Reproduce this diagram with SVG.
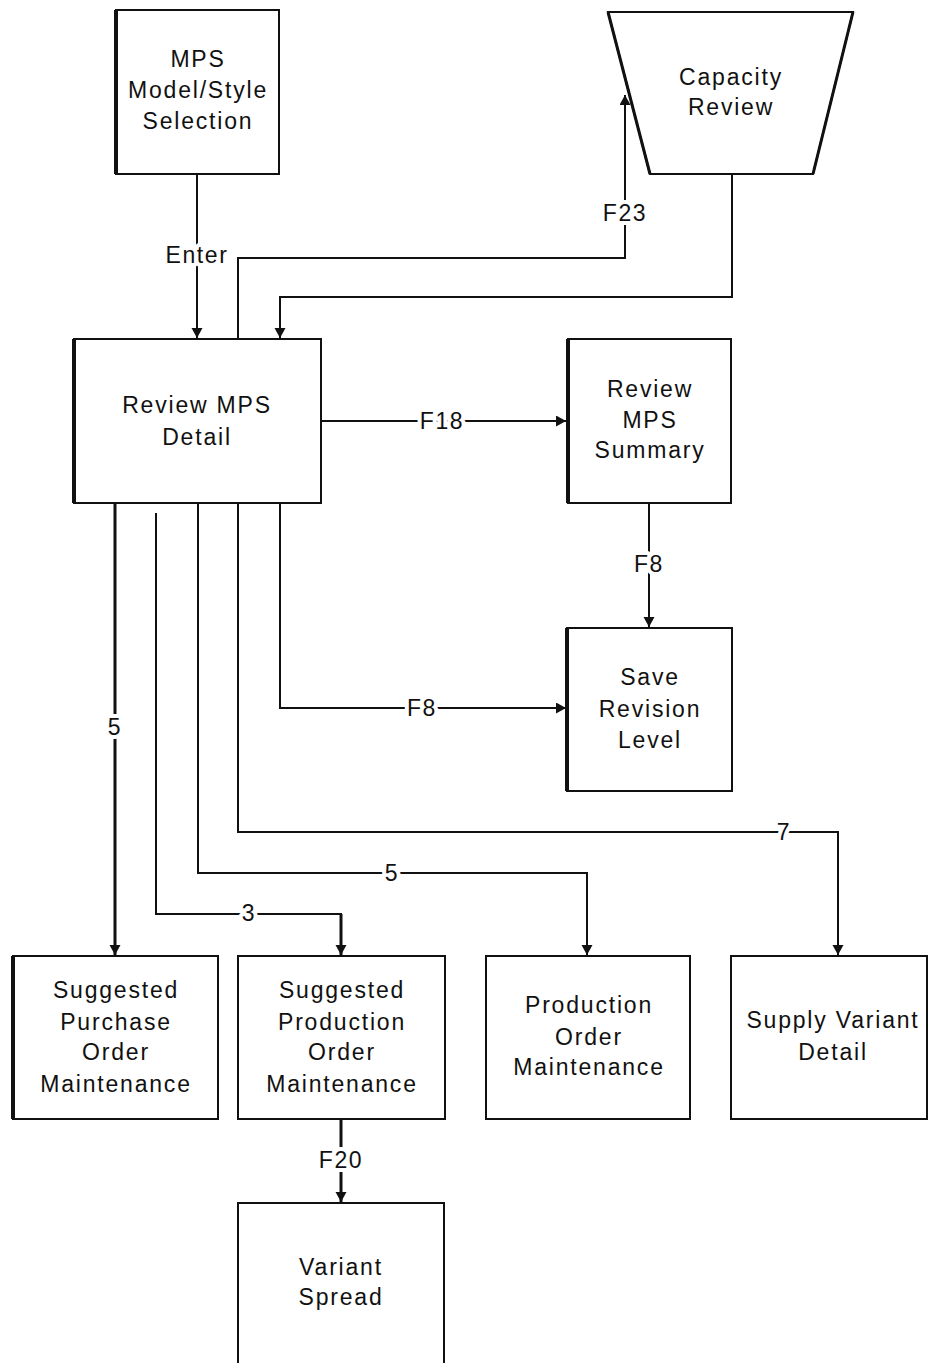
<svg xmlns="http://www.w3.org/2000/svg" width="928" height="1363" viewBox="0 0 928 1363">
<style>
.box{fill:#fff;stroke:#111;stroke-width:2}
.edge{stroke:#111;stroke-width:4}
.t{font-family:"Liberation Sans",Arial,sans-serif;font-size:23px;letter-spacing:1.8px;fill:#111;text-anchor:middle}
.c{fill:none;stroke:#111;stroke-width:2}
.thick{stroke-width:3}
.lbl{font-family:"Liberation Sans",Arial,sans-serif;font-size:23px;letter-spacing:1.6px;fill:#111;text-anchor:middle;stroke:#fff;stroke-width:8px;paint-order:stroke;stroke-linejoin:round}
</style>
<defs>
<marker id="ah" markerUnits="userSpaceOnUse" markerWidth="12" markerHeight="12" refX="10" refY="5.5" orient="auto">
<path d="M0,0 L10,5.5 L0,11 Z" fill="#111"/>
</marker>
</defs>
<rect width="928" height="1363" fill="#fff"/>

<g id="connectors">
<path class="c" d="M197,174 V338" marker-end="url(#ah)"/>
<path class="c" d="M238,339 V258 H625 V95" marker-end="url(#ah)"/>
<path class="c" d="M732,174 V297 H280 V338" marker-end="url(#ah)"/>
<path class="c" d="M321,421 H566" marker-end="url(#ah)"/>
<path class="c" d="M649,503 V627" marker-end="url(#ah)"/>
<path class="c" d="M280,503 V708 H566" marker-end="url(#ah)"/>
<path class="c thick" d="M115,503 V955" marker-end="url(#ah)"/>
<path class="c" d="M156,513 V914 H341 V925"/>
<path class="c thick" d="M341,914 V955" marker-end="url(#ah)"/>
<path class="c" d="M198,503 V873 H587 V955" marker-end="url(#ah)"/>
<path class="c" d="M238,503 V832 H838 V955" marker-end="url(#ah)"/>
<path class="c thick" d="M341,1119 V1202" marker-end="url(#ah)"/>
<text class="lbl" x="197" y="263">Enter</text>
<text class="lbl" x="625" y="221">F23</text>
<text class="lbl" x="442" y="429">F18</text>
<text class="lbl" x="649" y="572">F8</text>
<text class="lbl" x="422" y="716">F8</text>
<text class="lbl" x="115" y="735">5</text>
<text class="lbl" x="249" y="921">3</text>
<text class="lbl" x="392" y="881">5</text>
<text class="lbl" x="784" y="840">7</text>
<text class="lbl" x="341" y="1168">F20</text>
</g>

<g id="mps-selection">
<rect class="box" x="116" y="10" width="163" height="164"/>
<line class="edge" x1="116" y1="10" x2="116" y2="174"/>
<text class="t" x="198" y="67">MPS</text>
<text class="t" x="198" y="98">Model/Style</text>
<text class="t" x="198" y="129">Selection</text>
</g>

<g id="capacity-review">
<polygon points="608,12 853,12 813,174 650,174" fill="#fff" stroke="#111" stroke-width="2"/>
<line class="c thick" x1="608" y1="12" x2="650" y2="174"/>
<line class="c thick" x1="853" y1="12" x2="813" y2="174"/>
<text class="t" x="731" y="85">Capacity</text>
<text class="t" x="731" y="115">Review</text>
</g>

<g id="review-mps-detail">
<rect class="box" x="74" y="339" width="247" height="164"/>
<line class="edge" x1="74" y1="339" x2="74" y2="503"/>
<text class="t" x="197" y="413">Review MPS</text>
<text class="t" x="197" y="445">Detail</text>
</g>

<g id="review-mps-summary">
<rect class="box" x="568" y="339" width="163" height="164"/>
<line class="edge" x1="568" y1="339" x2="568" y2="503"/>
<text class="t" x="650" y="397">Review</text>
<text class="t" x="650" y="428">MPS</text>
<text class="t" x="650" y="458">Summary</text>
</g>

<g id="save-revision-level">
<rect class="box" x="567" y="628" width="165" height="163"/>
<line class="edge" x1="567" y1="628" x2="567" y2="791"/>
<text class="t" x="650" y="685">Save</text>
<text class="t" x="650" y="717">Revision</text>
<text class="t" x="650" y="748">Level</text>
</g>

<g id="suggested-purchase">
<rect class="box" x="13" y="956" width="205" height="163"/>
<line class="edge" x1="13" y1="956" x2="13" y2="1119"/>
<text class="t" x="116" y="998">Suggested</text>
<text class="t" x="116" y="1030">Purchase</text>
<text class="t" x="116" y="1060">Order</text>
<text class="t" x="116" y="1092">Maintenance</text>
</g>

<g id="suggested-production">
<rect class="box" x="238" y="956" width="207" height="163"/>
<text class="t" x="342" y="998">Suggested</text>
<text class="t" x="342" y="1030">Production</text>
<text class="t" x="342" y="1060">Order</text>
<text class="t" x="342" y="1092">Maintenance</text>
</g>

<g id="production-order">
<rect class="box" x="486" y="956" width="204" height="163"/>
<text class="t" x="589" y="1013">Production</text>
<text class="t" x="589" y="1045">Order</text>
<text class="t" x="589" y="1075">Maintenance</text>
</g>

<g id="supply-variant">
<rect class="box" x="731" y="956" width="196" height="163"/>
<text class="t" x="833" y="1028">Supply Variant</text>
<text class="t" x="833" y="1060">Detail</text>
</g>

<g id="variant-spread">
<rect class="box" x="238" y="1203" width="206" height="170"/>
<text class="t" x="341" y="1275">Variant</text>
<text class="t" x="341" y="1305">Spread</text>
</g>
</svg>
